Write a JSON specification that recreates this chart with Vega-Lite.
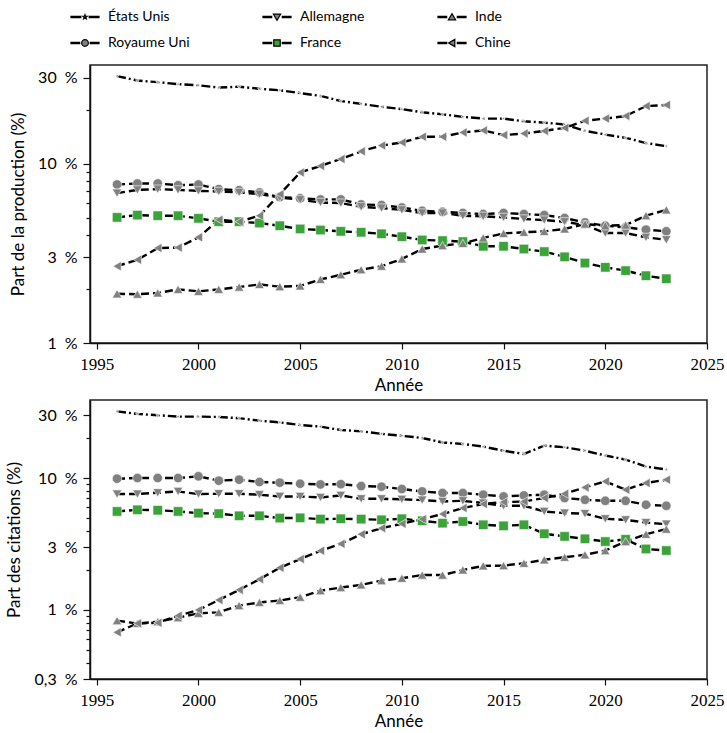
{
  "$schema": "https://vega.github.io/schema/vega-lite/v6.json",
  "padding": {"left": 5, "top": 1, "right": 0, "bottom": 0},
  "background": "white",
  "config": {
    "view": {"stroke": "#222", "strokeWidth": 1.5},
    "axis": {
      "domainColor": "#111", "domainWidth": 1.5, "tickColor": "#111", "tickWidth": 1.2,
      "grid": false, "labelColor": "black", "titleColor": "black",
      "titleFont": "Lato", "titleFontSize": 17, "titleFontWeight": "normal", "labelOverlap": false
    }
  },
  "datasets": {
    "parts": [
      {"year":1996,"country":"États Unis","production":30.7,"citations":32.0},
      {"year":1997,"country":"États Unis","production":29.0,"citations":30.6},
      {"year":1998,"country":"États Unis","production":28.4,"citations":29.9},
      {"year":1999,"country":"États Unis","production":27.7,"citations":29.2},
      {"year":2000,"country":"États Unis","production":27.3,"citations":29.2},
      {"year":2001,"country":"États Unis","production":26.5,"citations":29.0},
      {"year":2002,"country":"États Unis","production":26.8,"citations":28.4},
      {"year":2003,"country":"États Unis","production":26.1,"citations":27.2},
      {"year":2004,"country":"États Unis","production":25.6,"citations":26.4},
      {"year":2005,"country":"États Unis","production":24.7,"citations":25.2},
      {"year":2006,"country":"États Unis","production":23.8,"citations":24.5},
      {"year":2007,"country":"États Unis","production":22.3,"citations":23.1},
      {"year":2008,"country":"États Unis","production":21.5,"citations":22.6},
      {"year":2009,"country":"États Unis","production":20.7,"citations":21.6},
      {"year":2010,"country":"États Unis","production":20.1,"citations":20.9},
      {"year":2011,"country":"États Unis","production":19.3,"citations":20.1},
      {"year":2012,"country":"États Unis","production":18.8,"citations":18.6},
      {"year":2013,"country":"États Unis","production":18.2,"citations":18.1},
      {"year":2014,"country":"États Unis","production":17.8,"citations":17.3},
      {"year":2015,"country":"États Unis","production":17.8,"citations":16.1},
      {"year":2016,"country":"États Unis","production":17.2,"citations":15.2},
      {"year":2017,"country":"États Unis","production":16.9,"citations":17.6},
      {"year":2018,"country":"États Unis","production":16.5,"citations":17.1},
      {"year":2019,"country":"États Unis","production":15.2,"citations":16.1},
      {"year":2020,"country":"États Unis","production":14.5,"citations":14.8},
      {"year":2021,"country":"États Unis","production":13.9,"citations":13.8},
      {"year":2022,"country":"États Unis","production":13.0,"citations":12.2},
      {"year":2023,"country":"États Unis","production":12.5,"citations":11.6},
      {"year":1996,"country":"Royaume Uni","production":7.64,"citations":9.88},
      {"year":1997,"country":"Royaume Uni","production":7.74,"citations":10.0},
      {"year":1998,"country":"Royaume Uni","production":7.74,"citations":10.0},
      {"year":1999,"country":"Royaume Uni","production":7.57,"citations":10.0},
      {"year":2000,"country":"Royaume Uni","production":7.64,"citations":10.3},
      {"year":2001,"country":"Royaume Uni","production":7.2,"citations":9.54},
      {"year":2002,"country":"Royaume Uni","production":7.1,"citations":9.71},
      {"year":2003,"country":"Royaume Uni","production":6.9,"citations":9.33},
      {"year":2004,"country":"Royaume Uni","production":6.5,"citations":9.21},
      {"year":2005,"country":"Royaume Uni","production":6.4,"citations":9.05},
      {"year":2006,"country":"Royaume Uni","production":6.31,"citations":8.94},
      {"year":2007,"country":"Royaume Uni","production":6.31,"citations":8.98},
      {"year":2008,"country":"Royaume Uni","production":5.92,"citations":8.69},
      {"year":2009,"country":"Royaume Uni","production":5.87,"citations":8.59},
      {"year":2010,"country":"Royaume Uni","production":5.69,"citations":8.25},
      {"year":2011,"country":"Royaume Uni","production":5.45,"citations":7.91},
      {"year":2012,"country":"Royaume Uni","production":5.38,"citations":7.69},
      {"year":2013,"country":"Royaume Uni","production":5.30,"citations":7.69},
      {"year":2014,"country":"Royaume Uni","production":5.23,"citations":7.47},
      {"year":2015,"country":"Royaume Uni","production":5.30,"citations":7.25},
      {"year":2016,"country":"Royaume Uni","production":5.23,"citations":7.38},
      {"year":2017,"country":"Royaume Uni","production":5.16,"citations":7.47},
      {"year":2018,"country":"Royaume Uni","production":4.97,"citations":7.05},
      {"year":2019,"country":"Royaume Uni","production":4.70,"citations":6.84},
      {"year":2020,"country":"Royaume Uni","production":4.50,"citations":6.72},
      {"year":2021,"country":"Royaume Uni","production":4.41,"citations":6.72},
      {"year":2022,"country":"Royaume Uni","production":4.28,"citations":6.27},
      {"year":2023,"country":"Royaume Uni","production":4.19,"citations":6.16},
      {"year":1996,"country":"Allemagne","production":6.84,"citations":7.56},
      {"year":1997,"country":"Allemagne","production":7.13,"citations":7.56},
      {"year":1998,"country":"Allemagne","production":7.2,"citations":7.73},
      {"year":1999,"country":"Allemagne","production":7.13,"citations":7.91},
      {"year":2000,"country":"Allemagne","production":7.04,"citations":7.56},
      {"year":2001,"country":"Allemagne","production":6.99,"citations":7.6},
      {"year":2002,"country":"Allemagne","production":6.90,"citations":7.6},
      {"year":2003,"country":"Allemagne","production":6.75,"citations":7.47},
      {"year":2004,"country":"Allemagne","production":6.47,"citations":7.25},
      {"year":2005,"country":"Allemagne","production":6.28,"citations":7.25},
      {"year":2006,"country":"Allemagne","production":6.07,"citations":7.12},
      {"year":2007,"country":"Allemagne","production":6.02,"citations":7.38},
      {"year":2008,"country":"Allemagne","production":5.74,"citations":6.96},
      {"year":2009,"country":"Allemagne","production":5.65,"citations":6.96},
      {"year":2010,"country":"Allemagne","production":5.52,"citations":6.9},
      {"year":2011,"country":"Allemagne","production":5.30,"citations":6.80},
      {"year":2012,"country":"Allemagne","production":5.30,"citations":6.64},
      {"year":2013,"country":"Allemagne","production":5.12,"citations":6.72},
      {"year":2014,"country":"Allemagne","production":5.08,"citations":6.46},
      {"year":2015,"country":"Allemagne","production":5.01,"citations":6.16},
      {"year":2016,"country":"Allemagne","production":4.91,"citations":6.16},
      {"year":2017,"country":"Allemagne","production":4.84,"citations":5.58},
      {"year":2018,"country":"Allemagne","production":4.74,"citations":5.42},
      {"year":2019,"country":"Allemagne","production":4.54,"citations":5.37},
      {"year":2020,"country":"Allemagne","production":4.10,"citations":4.91},
      {"year":2021,"country":"Allemagne","production":4.10,"citations":4.82},
      {"year":2022,"country":"Allemagne","production":3.88,"citations":4.60},
      {"year":2023,"country":"Allemagne","production":3.76,"citations":4.47},
      {"year":1996,"country":"France","production":5.01,"citations":5.58},
      {"year":1997,"country":"France","production":5.16,"citations":5.74},
      {"year":1998,"country":"France","production":5.12,"citations":5.7},
      {"year":1999,"country":"France","production":5.12,"citations":5.58},
      {"year":2000,"country":"France","production":4.95,"citations":5.42},
      {"year":2001,"country":"France","production":4.74,"citations":5.37},
      {"year":2002,"country":"France","production":4.74,"citations":5.17},
      {"year":2003,"country":"France","production":4.66,"citations":5.17},
      {"year":2004,"country":"France","production":4.50,"citations":4.97},
      {"year":2005,"country":"France","production":4.32,"citations":4.99},
      {"year":2006,"country":"France","production":4.26,"citations":4.88},
      {"year":2007,"country":"France","production":4.19,"citations":4.91},
      {"year":2008,"country":"France","production":4.14,"citations":4.88},
      {"year":2009,"country":"France","production":4.06,"citations":4.82},
      {"year":2010,"country":"France","production":3.91,"citations":4.91},
      {"year":2011,"country":"France","production":3.75,"citations":4.74},
      {"year":2012,"country":"France","production":3.72,"citations":4.55},
      {"year":2013,"country":"France","production":3.67,"citations":4.68},
      {"year":2014,"country":"France","production":3.46,"citations":4.42},
      {"year":2015,"country":"France","production":3.46,"citations":4.34},
      {"year":2016,"country":"France","production":3.34,"citations":4.42},
      {"year":2017,"country":"France","production":3.23,"citations":3.78},
      {"year":2018,"country":"France","production":3.02,"citations":3.61},
      {"year":2019,"country":"France","production":2.79,"citations":3.46},
      {"year":2020,"country":"France","production":2.64,"citations":3.30},
      {"year":2021,"country":"France","production":2.53,"citations":3.43},
      {"year":2022,"country":"France","production":2.37,"citations":2.90},
      {"year":2023,"country":"France","production":2.28,"citations":2.82},
      {"year":1996,"country":"Inde","production":1.88,"citations":0.83},
      {"year":1997,"country":"Inde","production":1.87,"citations":0.79},
      {"year":1998,"country":"Inde","production":1.90,"citations":0.815},
      {"year":1999,"country":"Inde","production":1.99,"citations":0.875},
      {"year":2000,"country":"Inde","production":1.94,"citations":0.944},
      {"year":2001,"country":"Inde","production":1.99,"citations":0.96},
      {"year":2002,"country":"Inde","production":2.05,"citations":1.08},
      {"year":2003,"country":"Inde","production":2.12,"citations":1.14},
      {"year":2004,"country":"Inde","production":2.06,"citations":1.18},
      {"year":2005,"country":"Inde","production":2.08,"citations":1.25},
      {"year":2006,"country":"Inde","production":2.26,"citations":1.40},
      {"year":2007,"country":"Inde","production":2.40,"citations":1.48},
      {"year":2008,"country":"Inde","production":2.56,"citations":1.55},
      {"year":2009,"country":"Inde","production":2.68,"citations":1.67},
      {"year":2010,"country":"Inde","production":2.94,"citations":1.74},
      {"year":2011,"country":"Inde","production":3.34,"citations":1.84},
      {"year":2012,"country":"Inde","production":3.49,"citations":1.84},
      {"year":2013,"country":"Inde","production":3.59,"citations":2.01},
      {"year":2014,"country":"Inde","production":3.85,"citations":2.16},
      {"year":2015,"country":"Inde","production":4.08,"citations":2.17},
      {"year":2016,"country":"Inde","production":4.14,"citations":2.26},
      {"year":2017,"country":"Inde","production":4.19,"citations":2.40},
      {"year":2018,"country":"Inde","production":4.32,"citations":2.51},
      {"year":2019,"country":"Inde","production":4.60,"citations":2.62},
      {"year":2020,"country":"Inde","production":4.50,"citations":2.82},
      {"year":2021,"country":"Inde","production":4.54,"citations":3.30},
      {"year":2022,"country":"Inde","production":5.12,"citations":3.75},
      {"year":2023,"country":"Inde","production":5.52,"citations":4.10},
      {"year":1996,"country":"Chine","production":2.68,"citations":0.677},
      {"year":1997,"country":"Chine","production":2.91,"citations":0.792},
      {"year":1998,"country":"Chine","production":3.38,"citations":0.80},
      {"year":1999,"country":"Chine","production":3.40,"citations":0.906},
      {"year":2000,"country":"Chine","production":3.88,"citations":1.0},
      {"year":2001,"country":"Chine","production":4.86,"citations":1.19},
      {"year":2002,"country":"Chine","production":4.74,"citations":1.42},
      {"year":2003,"country":"Chine","production":5.12,"citations":1.71},
      {"year":2004,"country":"Chine","production":6.75,"citations":2.09},
      {"year":2005,"country":"Chine","production":8.91,"citations":2.43},
      {"year":2006,"country":"Chine","production":9.70,"citations":2.81},
      {"year":2007,"country":"Chine","production":10.6,"citations":3.17},
      {"year":2008,"country":"Chine","production":11.7,"citations":3.75},
      {"year":2009,"country":"Chine","production":12.6,"citations":4.17},
      {"year":2010,"country":"Chine","production":13.1,"citations":4.5},
      {"year":2011,"country":"Chine","production":14.1,"citations":4.88},
      {"year":2012,"country":"Chine","production":14.1,"citations":5.33},
      {"year":2013,"country":"Chine","production":14.9,"citations":5.92},
      {"year":2014,"country":"Chine","production":15.3,"citations":6.35},
      {"year":2015,"country":"Chine","production":14.4,"citations":6.57},
      {"year":2016,"country":"Chine","production":14.7,"citations":6.64},
      {"year":2017,"country":"Chine","production":15.2,"citations":7.05},
      {"year":2018,"country":"Chine","production":15.8,"citations":7.60},
      {"year":2019,"country":"Chine","production":17.3,"citations":8.49},
      {"year":2020,"country":"Chine","production":17.8,"citations":9.42},
      {"year":2021,"country":"Chine","production":18.4,"citations":8.15},
      {"year":2022,"country":"Chine","production":20.9,"citations":9.16},
      {"year":2023,"country":"Chine","production":21.2,"citations":9.71}
    ]
  },
  "data": {"name": "parts"},
  "spacing": 5,
  "vconcat": [
    {
      "width": 617,
      "height": 278,
      "encoding": {
        "x": {"field": "year", "type": "quantitative", "title": "Année",
          "scale": {"domain": [1994.67, 2025], "nice": false, "zero": false},
          "axis": {"values": [1995, 2000, 2005, 2010, 2015, 2020, 2025], "format": "d", "labelFlush": false,
            "labelFont": "Liberation Serif", "labelFontSize": 17, "tickSize": 6, "labelPadding": 7, "titlePadding": 5}},
        "y": {"field": "production", "type": "quantitative", "title": "Part de la production (%)",
          "scale": {"type": "log", "domain": [1, 35.4], "nice": false},
          "axis": {"values": [1, 2, 3, 4, 5, 6, 7, 8, 9, 10, 20, 30],
            "labelExpr": "indexof([1, 3, 10, 30], datum.value) >= 0 ? replace(toString(datum.value), '.', ',') + '\u2002%' : ''",
            "tickSize": {"condition": {"test": "indexof([1, 3, 10, 30], datum.value) >= 0", "value": 7}, "value": 4},
            "labelFont": "Lato", "labelFontSize": 16, "labelPadding": 6, "titlePadding": 10}}
      },
      "layer": [
        {
          "mark": {"type": "line", "color": "black", "strokeWidth": 2.4},
          "encoding": {
            "strokeDash": {"field": "country", "type": "nominal", "legend": null,
              "scale": {"domain": ["États Unis", "Royaume Uni", "Allemagne", "France", "Inde", "Chine"],
                "range": [[9, 3, 2, 3], [8, 4], [8, 4], [8, 4], [8, 4], [8, 4]]}}
          }
        },
        {
          "mark": {"type": "point", "filled": true, "opacity": 1, "size": 90, "stroke": "white", "strokeWidth": 0.6},
          "encoding": {
            "shape": {"field": "country", "type": "nominal", "legend": null,
              "scale": {"domain": ["États Unis", "Royaume Uni", "Allemagne", "France", "Inde", "Chine"],
                "range": ["M0,-0.45 L0.106,-0.146 L0.428,-0.139 L0.171,0.056 L0.265,0.364 L0,0.18 L-0.265,0.364 L-0.171,0.056 L-0.428,-0.139 L-0.106,-0.146 Z", "circle", "triangle-down", "square", "triangle-up", "triangle-left"]}},
            "color": {"field": "country", "type": "nominal", "legend": null,
              "scale": {"domain": ["États Unis", "Royaume Uni", "Allemagne", "France", "Inde", "Chine"],
                "range": ["#808080", "#808080", "#808080", "#3ca23a", "#808080", "#808080"]}}
          }
        },
        {
          "transform": [{"filter": "datum.year < 0"}],
          "mark": {"type": "point", "filled": true, "opacity": 1},
          "encoding": {
            "shape": {"field": "country", "type": "nominal",
              "scale": {"domain": ["États Unis", "Allemagne", "Inde", "Royaume Uni", "France", "Chine"],
                "range": [
                  "M-1,-0.05 H-0.3 V0.05 H-1 Z M0.3,-0.05 H1 V0.05 H0.3 Z M0,-0.16 L0.04,-0.055 L0.15,-0.05 L0.06,0.02 L0.095,0.13 L0,0.065 L-0.095,0.13 L-0.06,0.02 L-0.15,-0.05 L-0.04,-0.055 Z",
                  "M-1,-0.05 H-0.38 V0.05 H-1 Z M0.38,-0.05 H1 V0.05 H0.38 Z M-0.26,-0.2 L0.26,-0.2 L0,0.24 Z",
                  "M-1,-0.05 H-0.38 V0.05 H-1 Z M0.38,-0.05 H1 V0.05 H0.38 Z M-0.26,0.2 L0.26,0.2 L0,-0.24 Z",
                  "M-1,-0.05 H-0.38 V0.05 H-1 Z M0.38,-0.05 H1 V0.05 H0.38 Z M-0.24,0 A0.24,0.24 0 1,0 0.24,0 A0.24,0.24 0 1,0 -0.24,0 Z",
                  "M-1,-0.05 H-0.38 V0.05 H-1 Z M0.38,-0.05 H1 V0.05 H0.38 Z M-0.23,-0.23 H0.23 V0.23 H-0.23 Z",
                  "M-1,-0.05 H-0.38 V0.05 H-1 Z M0.38,-0.05 H1 V0.05 H0.38 Z M0.2,-0.26 L0.2,0.26 L-0.24,0 Z"
                ]},
              "legend": {"title": null, "orient": "none", "legendX": -20, "legendY": -63, "direction": "horizontal",
                "columns": 3, "columnPadding": 70, "rowPadding": 4, "symbolSize": 784,
                "symbolStrokeColor": "black", "symbolStrokeWidth": 1.2, "symbolOpacity": 1,
                "labelFont": "Lato", "labelFontSize": 14, "labelColor": "black", "labelOffset": 8,
                "encode": {"symbols": {"update": {"stroke": {"value": "black"}, "strokeWidth": {"value": 1.2}, "opacity": {"value": 1}}}}}},
            "fill": {"field": "country", "type": "nominal",
              "scale": {"domain": ["États Unis", "Allemagne", "Inde", "Royaume Uni", "France", "Chine"],
                "range": ["#808080", "#808080", "#808080", "#808080", "#3ca23a", "#808080"]},
              "legend": {"title": null, "orient": "none", "legendX": -20, "legendY": -63, "direction": "horizontal",
                "columns": 3, "columnPadding": 70, "rowPadding": 4, "symbolSize": 784,
                "symbolStrokeColor": "black", "symbolStrokeWidth": 1.2, "symbolOpacity": 1,
                "labelFont": "Lato", "labelFontSize": 14, "labelColor": "black", "labelOffset": 8,
                "encode": {"symbols": {"update": {"stroke": {"value": "black"}, "strokeWidth": {"value": 1.2}, "opacity": {"value": 1}}}}}}
          }
        }
      ],
      "resolve": {"scale": {"shape": "independent", "fill": "independent"}}
    },
    {
      "width": 617,
      "height": 279,
      "encoding": {
        "x": {"field": "year", "type": "quantitative", "title": "Année",
          "scale": {"domain": [1994.67, 2025], "nice": false, "zero": false},
          "axis": {"values": [1995, 2000, 2005, 2010, 2015, 2020, 2025], "format": "d", "labelFlush": false,
            "labelFont": "Liberation Serif", "labelFontSize": 17, "tickSize": 6, "labelPadding": 7, "titlePadding": 5}},
        "y": {"field": "citations", "type": "quantitative", "title": "Part des citations (%)",
          "scale": {"type": "log", "domain": [0.3, 39], "nice": false},
          "axis": {"values": [0.3, 0.4, 0.5, 0.6, 0.7, 0.8, 0.9, 1, 2, 3, 4, 5, 6, 7, 8, 9, 10, 20, 30],
            "labelExpr": "indexof([0.3, 1, 3, 10, 30], datum.value) >= 0 ? replace(toString(datum.value), '.', ',') + '\u2002%' : ''",
            "tickSize": {"condition": {"test": "indexof([0.3, 1, 3, 10, 30], datum.value) >= 0", "value": 7}, "value": 4},
            "labelFont": "Lato", "labelFontSize": 16, "labelPadding": 6, "titlePadding": 10}}
      },
      "layer": [
        {
          "mark": {"type": "line", "color": "black", "strokeWidth": 2.4},
          "encoding": {
            "strokeDash": {"field": "country", "type": "nominal", "legend": null,
              "scale": {"domain": ["États Unis", "Royaume Uni", "Allemagne", "France", "Inde", "Chine"],
                "range": [[9, 3, 2, 3], [8, 4], [8, 4], [8, 4], [8, 4], [8, 4]]}}
          }
        },
        {
          "mark": {"type": "point", "filled": true, "opacity": 1, "size": 90, "stroke": "white", "strokeWidth": 0.6},
          "encoding": {
            "shape": {"field": "country", "type": "nominal", "legend": null,
              "scale": {"domain": ["États Unis", "Royaume Uni", "Allemagne", "France", "Inde", "Chine"],
                "range": ["M0,-0.45 L0.106,-0.146 L0.428,-0.139 L0.171,0.056 L0.265,0.364 L0,0.18 L-0.265,0.364 L-0.171,0.056 L-0.428,-0.139 L-0.106,-0.146 Z", "circle", "triangle-down", "square", "triangle-up", "triangle-left"]}},
            "color": {"field": "country", "type": "nominal", "legend": null,
              "scale": {"domain": ["États Unis", "Royaume Uni", "Allemagne", "France", "Inde", "Chine"],
                "range": ["#808080", "#808080", "#808080", "#3ca23a", "#808080", "#808080"]}}
          }
        }
      ]
    }
  ]
}
